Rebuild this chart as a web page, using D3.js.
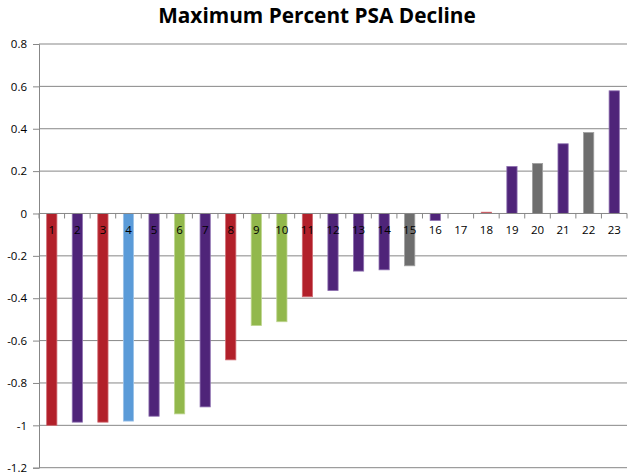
<!DOCTYPE html>
<html><head><meta charset="utf-8">
<script src="https://cdn.jsdelivr.net/npm/d3@7"></script>
<style>body{margin:0;background:#fff}</style>
</head><body><svg id="c" width="635" height="475"></svg>
<script>
const categories = d3.range(1,24).map(String);
const values = [-1.0,-0.985,-0.985,-0.98,-0.957,-0.946,-0.913,-0.691,-0.529,-0.511,-0.393,-0.364,-0.272,-0.266,-0.247,-0.033,0,0.006,0.222,0.236,0.329,0.382,0.579];
const groups = ["red","purple","red","blue","purple","green","purple","red","green","green","red","purple","purple","purple","gray","purple","purple","red","purple","gray","purple","gray","purple"];
const yTicks = [0.8,0.6,0.4,0.2,0,-0.2,-0.4,-0.6,-0.8,-1,-1.2];
const title = "Maximum Percent PSA Decline";

(function(){
const colors = {red:"#B2202A", purple:"#4F2479", blue:"#5B9BD8", green:"#92B84C", gray:"#6E6E6E"};
const strokes = {red:"#D06870", purple:"#8E70B0", blue:"#9CC2E8", green:"#BFD690", gray:"#A0A0A0"};

const svg = d3.select("#c");
const mL=39, mR=627, mT=44, mB=467.7;
const x = d3.scaleBand().domain(categories).range([mL,mR]).paddingInner(0.6).paddingOuter(0.3);
const xb = d3.scaleBand().domain(categories).range([mL,mR]);
const y = d3.scaleLinear().domain([-1.2,0.8]).range([mB,mT]);

svg.append("text").attr("x",317).attr("y",22.5).attr("text-anchor","middle")
  .attr("font-family","'Open Sans',sans-serif").attr("font-weight","bold").attr("font-size",20.8)
  .attr("fill","#000").text(title);

// gridlines
svg.append("g").selectAll("line").data(yTicks.filter(d=>d!==0)).join("line")
  .attr("x1",mL).attr("x2",mR).attr("y1",d=>y(d)).attr("y2",d=>y(d))
  .attr("stroke","#878787").attr("stroke-width",1);

// y axis
const ya = svg.append("g").attr("transform",`translate(${mL},0)`)
  .call(d3.axisLeft(y).tickValues(yTicks).tickSize(6).tickPadding(6).tickFormat(d=>String(d)));
ya.select(".domain").attr("stroke","#878787");
ya.selectAll(".tick line").attr("stroke","#878787");
ya.selectAll(".tick text").attr("font-family","'Open Sans',sans-serif").attr("font-size",11.5).attr("fill","#000");

// bars
svg.append("g").selectAll("rect").data(values).join("rect")
  .attr("x",(d,i)=>x(categories[i])).attr("width",x.bandwidth())
  .attr("y",d=>y(Math.max(0,d))).attr("height",d=>Math.abs(y(d)-y(0)))
  .attr("fill",(d,i)=>colors[groups[i]]).attr("stroke",(d,i)=>strokes[groups[i]]).attr("stroke-width",0.8);

// x axis at zero
const xa = svg.append("g").attr("transform",`translate(0,${y(0)})`)
  .call(d3.axisBottom(xb).tickSize(0).tickPadding(12));
xa.select(".domain").attr("stroke","#878787").attr("d",`M${mL},0H${mR}`);
xa.selectAll(".tick text").attr("font-family","'Open Sans',sans-serif").attr("font-size",11.5).attr("fill","#000");
// boundary tick marks
svg.append("g").selectAll("line").data(d3.range(categories.length+1)).join("line")
  .attr("x1",i=>mL+i*xb.step()).attr("x2",i=>mL+i*xb.step())
  .attr("y1",y(0)).attr("y2",y(0)+5).attr("stroke","#878787");
})();
</script></body></html>
